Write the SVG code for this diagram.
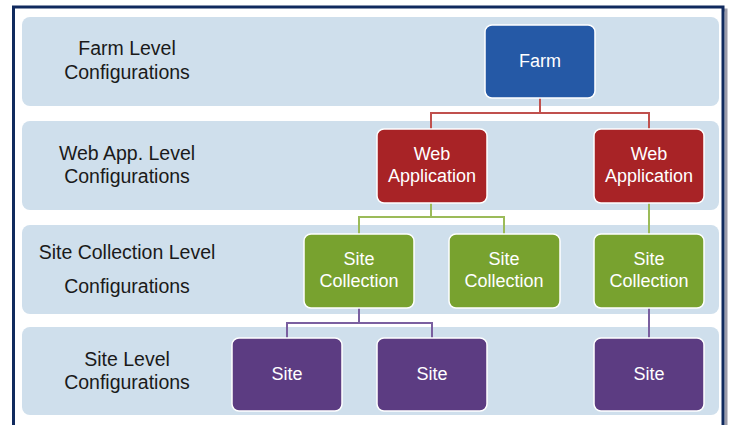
<svg xmlns="http://www.w3.org/2000/svg" width="734" height="425" viewBox="0 0 734 425">
<style>
.band{fill:#CFDFEC}
.node{stroke:#ffffff;stroke-width:1.5}
.farm{fill:#2559A6}
.web{fill:#A82326}
.sc{fill:#78A22F}
.site{fill:#5C3C82}
.lbl{font-family:"Liberation Sans",Arial,sans-serif;font-size:19.5px;fill:#1a1a1a;text-anchor:middle}
.nt{font-family:"Liberation Sans",Arial,sans-serif;font-size:18px;fill:#ffffff;text-anchor:middle}
.c{fill:none;stroke-width:2}
.cr{stroke:#C0504D}
.cg{stroke:#9BBB59}
.cp{stroke:#7A5FA0}
</style>
<rect width="734" height="425" fill="#ffffff"/>
<rect x="16" y="10" width="710" height="430" fill="none" stroke="#9a9aa8" stroke-width="3"/>
<rect x="13.5" y="7" width="709.5" height="430" fill="#ffffff" stroke="#102A5E" stroke-width="3"/>
<g id="bands">
<rect class="band" x="22" y="17" width="697" height="89" rx="8"/>
<rect class="band" x="22" y="121" width="697" height="89" rx="8"/>
<rect class="band" x="22" y="225" width="697" height="89" rx="8"/>
<rect class="band" x="22" y="327" width="697" height="88" rx="8"/>
</g>
<g id="labels">
<text class="lbl" x="127" y="55">Farm Level</text>
<text class="lbl" x="127" y="79">Configurations</text>
<text class="lbl" x="127" y="160">Web App. Level</text>
<text class="lbl" x="127" y="183">Configurations</text>
<text class="lbl" x="127" y="259">Site Collection Level</text>
<text class="lbl" x="127" y="293">Configurations</text>
<text class="lbl" x="127" y="366">Site Level</text>
<text class="lbl" x="127" y="389">Configurations</text>
</g>
<g id="connectors">
<path class="c cr" d="M540 97 V113 M431 129 V113 H649 V129"/>
<path class="c cg" d="M431 203 V217 M359 234 V217 H504 V234"/>
<path class="c cg" d="M649 203 V234"/>
<path class="c cp" d="M359 308 V323 M287 338 V323 H432 V338"/>
<path class="c cp" d="M649 308 V338"/>
</g>
<g id="farm">
<rect class="node farm" x="485" y="25" width="110" height="73" rx="7"/>
<text class="nt" x="540" y="67">Farm</text>
</g>
<g id="webapp1">
<rect class="node web" x="377" y="129" width="110" height="74" rx="7"/>
<text class="nt" x="432" y="160">Web</text>
<text class="nt" x="432" y="182">Application</text>
</g>
<g id="webapp2">
<rect class="node web" x="594" y="129" width="110" height="74" rx="7"/>
<text class="nt" x="649" y="160">Web</text>
<text class="nt" x="649" y="182">Application</text>
</g>
<g id="sitecollection1">
<rect class="node sc" x="304" y="234" width="110" height="74" rx="7"/>
<text class="nt" x="359" y="265">Site</text>
<text class="nt" x="359" y="287">Collection</text>
</g>
<g id="sitecollection2">
<rect class="node sc" x="449" y="234" width="111" height="74" rx="7"/>
<text class="nt" x="504" y="265">Site</text>
<text class="nt" x="504" y="287">Collection</text>
</g>
<g id="sitecollection3">
<rect class="node sc" x="594" y="234" width="110" height="74" rx="7"/>
<text class="nt" x="649" y="265">Site</text>
<text class="nt" x="649" y="287">Collection</text>
</g>
<g id="site1">
<rect class="node site" x="232" y="338" width="110" height="73" rx="7"/>
<text class="nt" x="287" y="380">Site</text>
</g>
<g id="site2">
<rect class="node site" x="377" y="338" width="110" height="73" rx="7"/>
<text class="nt" x="432" y="380">Site</text>
</g>
<g id="site3">
<rect class="node site" x="594" y="338" width="110" height="73" rx="7"/>
<text class="nt" x="649" y="380">Site</text>
</g>
</svg>
